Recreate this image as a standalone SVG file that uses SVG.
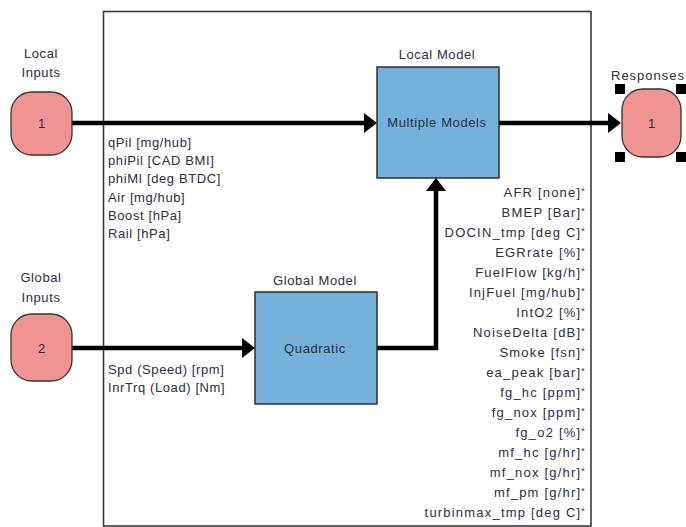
<svg xmlns="http://www.w3.org/2000/svg" width="686" height="527" viewBox="0 0 686 527">
<style>
text{font-family:"Liberation Sans",Arial,sans-serif;font-size:13px;fill:#2e2e3c;letter-spacing:0.6px}
.c{text-anchor:middle}
.r{text-anchor:end;letter-spacing:1.2px}
.port{fill:#f09393;stroke:#333;stroke-width:1.3}
.blk{fill:#75b1db;stroke:#222;stroke-width:1.4}
.wire{fill:none;stroke:#000;stroke-width:4.5}
.ah{fill:#000}
.hd{fill:#000}
.ast{font-size:9px}
</style>
<rect width="686" height="527" fill="#fff"/>
<g id="frame"><rect x="103.5" y="11.5" width="487.5" height="514.5" fill="none" stroke="#3a3a3a" stroke-width="1.6"/></g>

<g id="connectors">
<line class="wire" x1="72" y1="123" x2="366" y2="123"/>
<polygon class="ah" points="364,113 377,123 364,133"/>
<line class="wire" x1="499" y1="123" x2="610" y2="123"/>
<polygon class="ah" points="608,113 621,123 608,133"/>
<line class="wire" x1="72" y1="348" x2="244" y2="348"/>
<polygon class="ah" points="242,338 255,348 242,358"/>
<polyline class="wire" points="377,348 436,348 436,189"/>
<polygon class="ah" points="426,191 436,178 446,191"/>
</g>

<g id="local-inputs">
<text class="c" x="41" y="58">Local</text>
<text class="c" x="41" y="77">Inputs</text>
<rect class="port" x="11" y="92" width="61" height="63" rx="21"/>
<text class="c" x="42" y="128">1</text>
</g>

<g id="global-inputs">
<text class="c" x="41" y="282">Global</text>
<text class="c" x="41" y="302">Inputs</text>
<rect class="port" x="11" y="314" width="61" height="67" rx="21"/>
<text class="c" x="42" y="353">2</text>
</g>

<g id="responses">
<text x="611" y="80" style="letter-spacing:1px">Responses</text>
<rect class="port" x="622" y="89" width="59" height="68" rx="21"/>
<text class="c" x="652" y="128">1</text>
<rect class="hd" x="615" y="84" width="10" height="10"/>
<rect class="hd" x="676" y="84" width="10" height="10"/>
<rect class="hd" x="615" y="152" width="10" height="10"/>
<rect class="hd" x="676" y="152" width="10" height="10"/>
</g>

<g id="local-model">
<text class="c" x="437" y="59">Local Model</text>
<rect class="blk" x="377" y="67" width="122" height="111"/>
<text class="c" x="437" y="127">Multiple Models</text>
</g>

<g id="global-model">
<text class="c" x="315" y="285">Global Model</text>
<rect class="blk" x="255" y="292" width="122" height="112"/>
<text class="c" x="315" y="353">Quadratic</text>
</g>

<g id="local-signals">
<text x="108" y="147">qPil [mg/hub]</text>
<text x="108" y="165">phiPil [CAD BMI]</text>
<text x="108" y="183">phiMI [deg BTDC]</text>
<text x="108" y="202">Air [mg/hub]</text>
<text x="108" y="220">Boost [hPa]</text>
<text x="108" y="238">Rail [hPa]</text>
</g>

<g id="global-signals">
<text x="108" y="374">Spd (Speed) [rpm]</text>
<text x="108" y="392">InrTrq (Load) [Nm]</text>
</g>

<g id="response-signals">
<text class="r" x="586" y="197">AFR [none]<tspan class="ast" dy="-3">*</tspan></text>
<text class="r" x="586" y="217">BMEP [Bar]<tspan class="ast" dy="-3">*</tspan></text>
<text class="r" x="586" y="237">DOCIN_tmp [deg C]<tspan class="ast" dy="-3">*</tspan></text>
<text class="r" x="586" y="257">EGRrate [%]<tspan class="ast" dy="-3">*</tspan></text>
<text class="r" x="586" y="277">FuelFlow [kg/h]<tspan class="ast" dy="-3">*</tspan></text>
<text class="r" x="586" y="297">InjFuel [mg/hub]<tspan class="ast" dy="-3">*</tspan></text>
<text class="r" x="586" y="317">IntO2 [%]<tspan class="ast" dy="-3">*</tspan></text>
<text class="r" x="586" y="337">NoiseDelta [dB]<tspan class="ast" dy="-3">*</tspan></text>
<text class="r" x="586" y="357">Smoke [fsn]<tspan class="ast" dy="-3">*</tspan></text>
<text class="r" x="586" y="377">ea_peak [bar]<tspan class="ast" dy="-3">*</tspan></text>
<text class="r" x="586" y="397">fg_hc [ppm]<tspan class="ast" dy="-3">*</tspan></text>
<text class="r" x="586" y="417">fg_nox [ppm]<tspan class="ast" dy="-3">*</tspan></text>
<text class="r" x="586" y="437">fg_o2 [%]<tspan class="ast" dy="-3">*</tspan></text>
<text class="r" x="586" y="457">mf_hc [g/hr]<tspan class="ast" dy="-3">*</tspan></text>
<text class="r" x="586" y="477">mf_nox [g/hr]<tspan class="ast" dy="-3">*</tspan></text>
<text class="r" x="586" y="497">mf_pm [g/hr]<tspan class="ast" dy="-3">*</tspan></text>
<text class="r" x="586" y="517">turbinmax_tmp [deg C]<tspan class="ast" dy="-3">*</tspan></text>
</g>
</svg>
